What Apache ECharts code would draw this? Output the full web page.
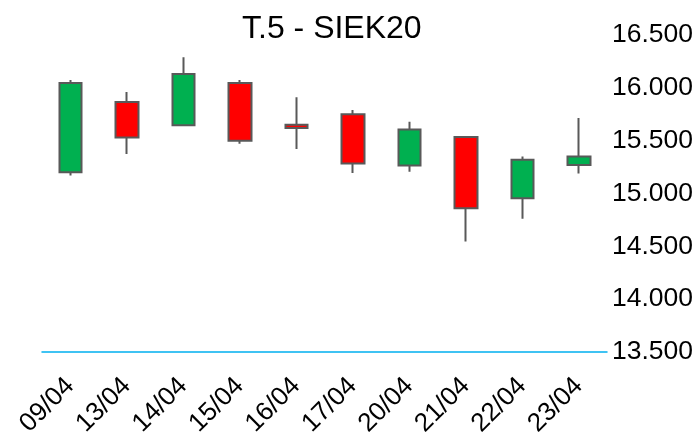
<!DOCTYPE html>
<html>
<head>
<meta charset="utf-8">
<script src="https://cdn.jsdelivr.net/npm/echarts@6/dist/echarts.min.js"></script>
<style>html,body{margin:0;padding:0;background:#fff}#c{width:698px;height:434px}</style>
</head>
<body>
<div id="c"></div>
<script>
const title = 'T.5 - SIEK20';
const categories = ['09/04','13/04','14/04','15/04','16/04','17/04','20/04','21/04','22/04','23/04'];
const openValues  = [15200, 15865, 15645, 16045, 15650, 15750, 15265, 15535, 14955, 15270];
const closeValues = [16045, 15530, 16130, 15500, 15620, 15285, 15605, 14860, 15320, 15350];
const lowValues   = [15170, 15375, 15645, 15470, 15420, 15195, 15205, 14545, 14760, 15190];
const highValues  = [16075, 15960, 16290, 16075, 15910, 15790, 15680, 15545, 15350, 15715];
const yMin = 13500, yMax = 16500, yStep = 500;

const data = categories.map((c, i) => [openValues[i], closeValues[i], lowValues[i], highValues[i]]);
const chart = echarts.init(document.getElementById('c'), null, {renderer: 'canvas'});
chart.setOption({
  animation: false,
  backgroundColor: '#ffffff',
  textStyle: {fontFamily: 'Liberation Sans, Arial, sans-serif'},
  title: {
    text: title, left: 237, top: 8,
    textStyle: {fontSize: 32, fontWeight: 'normal', color: '#000', fontFamily: 'Liberation Sans, Arial, sans-serif'}
  },
  grid: {left: 42, right: 91, top: 35, bottom: 82, containLabel: false, outerBoundsMode: 'none'},
  xAxis: {
    type: 'category', data: categories, boundaryGap: true,
    axisLine: {show: true, onZero: false, lineStyle: {color: '#00B0F0', width: 1.5}},
    axisTick: {show: false},
    splitLine: {show: false},
    axisLabel: {rotate: 45, fontSize: 26, color: '#000', margin: 30, interval: 0, hideOverlap: false,
      fontFamily: 'Liberation Sans, Arial, sans-serif'}
  },
  yAxis: {
    type: 'value', position: 'right', min: yMin, max: yMax, interval: yStep, scale: false,
    axisLine: {show: false}, axisTick: {show: false}, splitLine: {show: false},
    axisLabel: {fontSize: 26.5, color: '#000', margin: 5,
      fontFamily: 'Liberation Sans, Arial, sans-serif',
      formatter: v => {
        const s = String(Math.round(v));
        return s.slice(0, s.length - 3) + '.' + s.slice(-3);
      }}
  },
  series: [{
    type: 'candlestick',
    data: data,
    barWidth: 23,
    itemStyle: {
      color: '#00B050', color0: '#FF0000',
      borderColor: '#595959', borderColor0: '#595959', borderWidth: 2
    }
  }]
});
</script>
</body>
</html>
